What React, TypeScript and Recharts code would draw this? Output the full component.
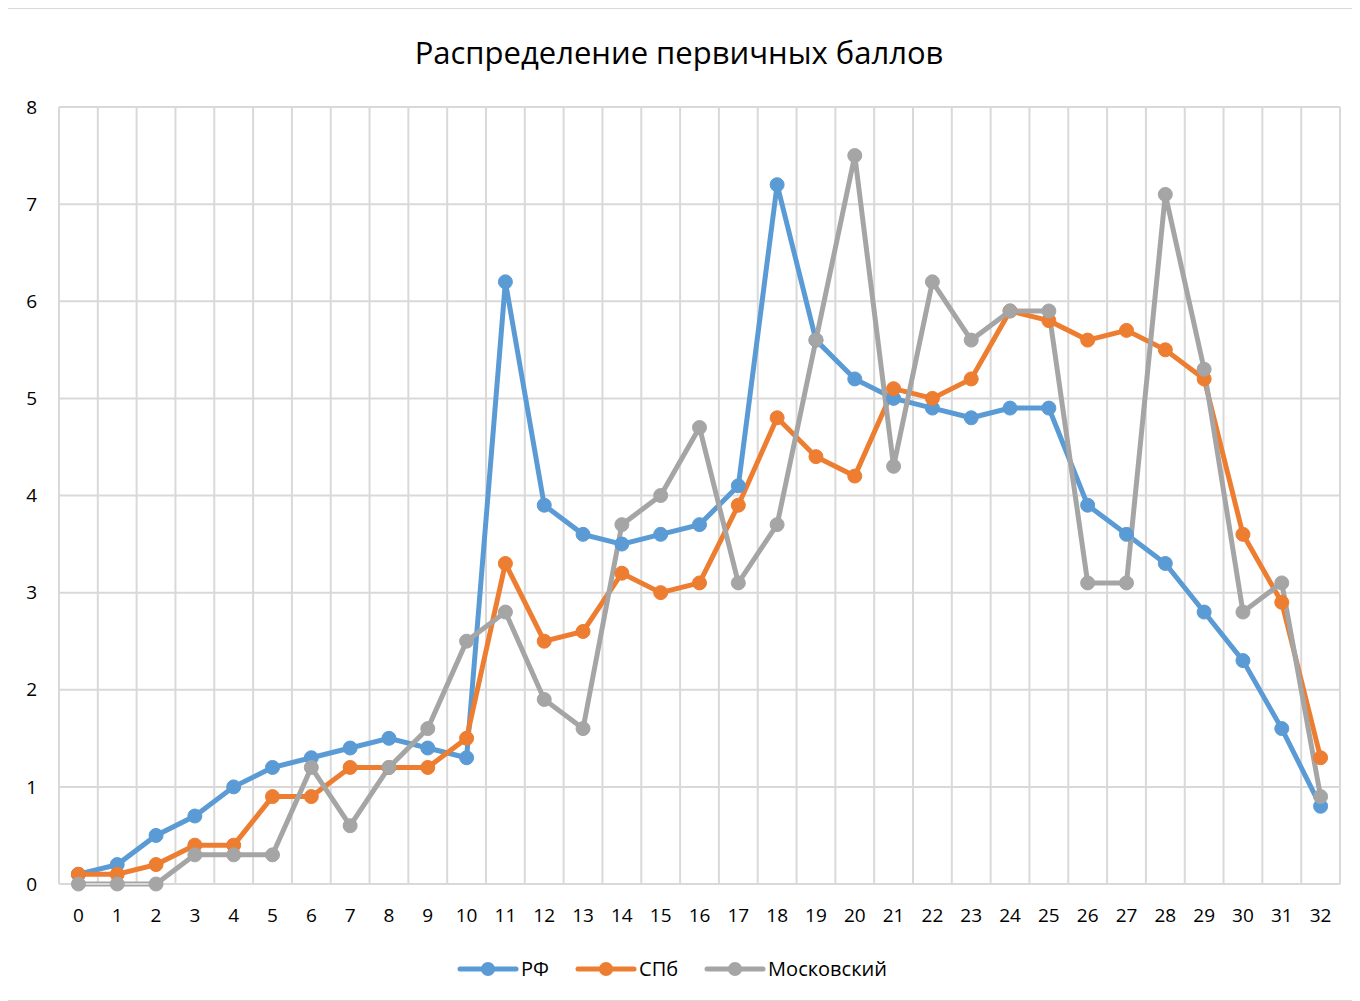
import { LineChart, Line, XAxis, YAxis, CartesianGrid, Legend } from "recharts";

const scores = Array.from({ length: 33 }, (_, i) => String(i));

const rf = [
  0.1, 0.2, 0.5, 0.7, 1.0, 1.2, 1.3, 1.4, 1.5, 1.4, 1.3, 6.2, 3.9, 3.6, 3.5, 3.6, 3.7,
  4.1, 7.2, 5.6, 5.2, 5.0, 4.9, 4.8, 4.9, 4.9, 3.9, 3.6, 3.3, 2.8, 2.3, 1.6, 0.8,
];
const spb = [
  0.1, 0.1, 0.2, 0.4, 0.4, 0.9, 0.9, 1.2, 1.2, 1.2, 1.5, 3.3, 2.5, 2.6, 3.2, 3.0, 3.1,
  3.9, 4.8, 4.4, 4.2, 5.1, 5.0, 5.2, 5.9, 5.8, 5.6, 5.7, 5.5, 5.2, 3.6, 2.9, 1.3,
];
const moscow = [
  0, 0, 0, 0.3, 0.3, 0.3, 1.2, 0.6, 1.2, 1.6, 2.5, 2.8, 1.9, 1.6, 3.7, 4.0, 4.7,
  3.1, 3.7, 5.6, 7.5, 4.3, 6.2, 5.6, 5.9, 5.9, 3.1, 3.1, 7.1, 5.3, 2.8, 3.1, 0.9,
];

const yTicks = [0, 1, 2, 3, 4, 5, 6, 7, 8];

const series = [
  { key: "rf", name: "РФ", color: "#5B9BD5" },
  { key: "spb", name: "СПб", color: "#ED7D31" },
  { key: "moscow", name: "Московский", color: "#A5A5A5" },
];

const data = scores.map((s, i) => ({ score: s, rf: rf[i], spb: spb[i], moscow: moscow[i] }));

const FONT = "'Open Sans', sans-serif";

function LegendContent() {
  return (
    <div style={{ display: "flex", justifyContent: "center", gap: 26, fontFamily: FONT, fontSize: 20, color: "#000" }}>
      {series.map((s) => (
        <div key={s.key} style={{ display: "flex", alignItems: "center" }}>
          <svg width={62} height={16}>
            <line x1={3} y1={8} x2={59} y2={8} stroke={s.color} strokeWidth={5} strokeLinecap="round" />
            <circle cx={31} cy={8} r={7} fill={s.color} />
          </svg>
          <span style={{ marginLeft: 2 }}>{s.name}</span>
        </div>
      ))}
    </div>
  );
}

export default function App() {
  return (
    <div style={{ position: "relative", width: 1352, height: 993, marginLeft: -5, border: "1px solid #d9d9d9", boxSizing: "border-box", background: "#fff" }}>
      <div style={{ position: "absolute", top: 22, left: 0, width: "100%", textAlign: "center", fontFamily: FONT, fontSize: 31, color: "#000" }}>
        Распределение первичных баллов
      </div>
      <LineChart width={1350} height={991} data={data} margin={{ top: 98, right: 14, left: 0, bottom: 20 }}>
        <CartesianGrid
          stroke="#d9d9d9"
          strokeWidth={2}
          verticalCoordinatesGenerator={({ offset }: any) =>
            Array.from({ length: scores.length + 1 }, (_, i) => offset.left + (i * offset.width) / scores.length)
          }
        />
        <XAxis
          dataKey="score"
          scale="band"
          tickLine={false}
          axisLine={{ stroke: "#d9d9d9", strokeWidth: 2 }}
          tickMargin={19}
          height={69}
          interval={0}
          tick={{ fill: "#000", fontSize: 19, fontFamily: FONT }}
        />
        <YAxis
          domain={[0, 8]}
          ticks={yTicks}
          width={55}
          tickLine={false}
          axisLine={false}
          tickMargin={16}
          tick={{ fill: "#000", fontSize: 19, fontFamily: FONT }}
        />
        <Legend verticalAlign="bottom" content={<LegendContent />} wrapperStyle={{ bottom: 18 }} />
        {series.map((s) => (
          <Line
            key={s.key}
            dataKey={s.key}
            name={s.name}
            stroke={s.color}
            strokeWidth={5}
            dot={{ r: 7, fill: s.color, stroke: s.color, strokeWidth: 1 }}
            isAnimationActive={false}
          />
        ))}
      </LineChart>
    </div>
  );
}
